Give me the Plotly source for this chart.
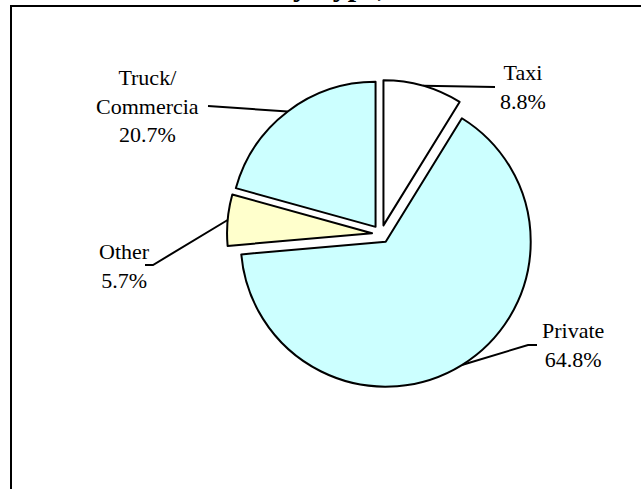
import math
import plotly.graph_objects as go

# ---- data ----
categories = ["Taxi", "Private", "Other", "Truck/Commercia"]
label_text = ["Taxi", "Private", "Other", "Truck/<br>Commercia"]
values = [8.8, 64.8, 5.7, 20.7]
colors = ["#FFFFFF", "#CCFFFF", "#FFFFCC", "#CCFFFF"]
title_text = "Vehicles by Type, 2005"

# ---- layout constants (pixels) ----
W, H = 641, 489
CX, CY, R, PULL = 381, 234, 145, 0.062
half = R * (1 + PULL)
domain_x = [(CX - half) / W, (CX + half) / W]
domain_y = [1 - (CY + half) / H, 1 - (CY - half) / H]

# label text centres and leader waypoints (from slice outward)
label_pos = {
    "Taxi": dict(tx=523, ty=87, way=[(495, 87)]),
    "Private": dict(tx=573, ty=345, way=[(528, 345), (537, 345)]),
    "Other": dict(tx=124, ty=266, way=[(153, 265), (145, 265)]),
    "Truck/Commercia": dict(tx=147, ty=106, way=[(208, 106)]),
}

FONT = "Liberation Serif, Times New Roman, serif"

fig = go.Figure()

fig.add_trace(go.Pie(
    labels=categories,
    values=values,
    sort=False,
    direction="clockwise",
    rotation=0,
    pull=[PULL] * len(values),
    marker=dict(colors=colors, line=dict(color="black", width=2)),
    textinfo="none",
    hoverinfo="label+percent",
    showlegend=False,
    domain=dict(x=domain_x, y=domain_y),
))

total = sum(values)
cum = 0.0
annotations = []
for cat, lt, v in zip(categories, label_text, values):
    mid = 2 * math.pi * (cum + v / 2) / total
    cum += v
    ax = CX + half * math.sin(mid)
    ay = CY - half * math.cos(mid)
    lp = label_pos[cat]
    xs = [ax] + [p[0] for p in lp["way"]]
    ys = [ay] + [p[1] for p in lp["way"]]
    fig.add_trace(go.Scatter(
        x=xs, y=ys, mode="lines",
        line=dict(color="black", width=2),
        hoverinfo="skip", showlegend=False,
    ))
    pct = 100 * v / total
    annotations.append(dict(
        x=lp["tx"], y=lp["ty"], xref="x", yref="y",
        text=f"{lt}<br>{pct:.1f}%", showarrow=False,
        xanchor="center", yanchor="middle", align="center",
        font=dict(family=FONT, size=22, color="black"),
    ))

annotations.append(dict(
    x=163, y=4.5, xref="x", yref="y",
    text=f"<b>{title_text}</b>", showarrow=False,
    xanchor="left", yanchor="bottom",
    font=dict(family=FONT, size=30, color="black"),
))

fig.update_layout(
    width=W, height=H, autosize=False,
    margin=dict(l=0, r=0, t=0, b=0, pad=0),
    paper_bgcolor="white", plot_bgcolor="rgba(0,0,0,0)",
    xaxis=dict(range=[0, W], visible=False, fixedrange=True),
    yaxis=dict(range=[H, 0], visible=False, fixedrange=True),
    annotations=annotations,
    shapes=[dict(type="rect", xref="x", yref="y",
                 x0=11, y0=6, x1=W + 20, y1=H + 20,
                 line=dict(color="black", width=2), fillcolor="rgba(0,0,0,0)")],
)

fig.write_html(
    "out.html",
    config={"displayModeBar": False},
    post_script="document.body.style.margin='0';document.body.style.overflow='hidden';",
)
